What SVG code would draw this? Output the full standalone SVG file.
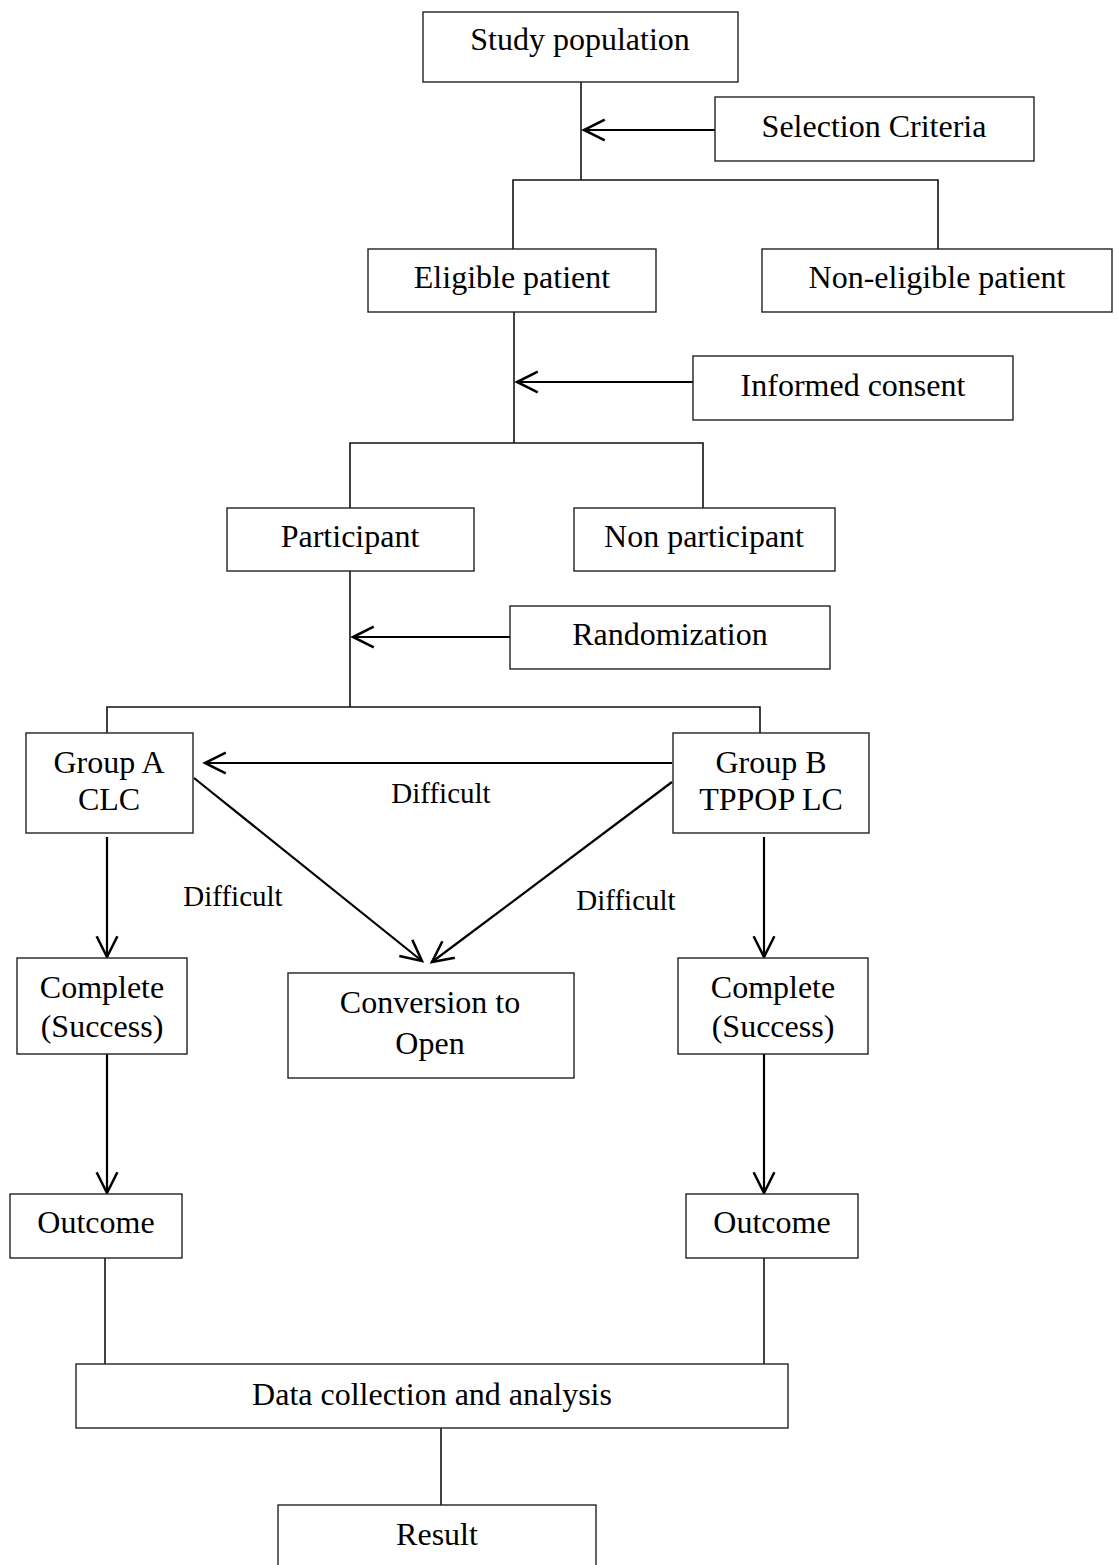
<svg xmlns="http://www.w3.org/2000/svg" width="1118" height="1565" viewBox="0 0 1118 1565">
<style>
.box{fill:#fff;stroke:#222;stroke-width:1.4}
.t{font-family:"Liberation Serif","Times New Roman",serif;font-size:32px;fill:#000;text-anchor:middle}
.lbl{font-family:"Liberation Serif","Times New Roman",serif;font-size:29px;fill:#000;text-anchor:middle}
.ln{fill:none;stroke:#111;stroke-width:1.6}
.ar{fill:none;stroke:#000;stroke-width:2.2;marker-end:url(#arr)}
</style>
<defs>
<marker id="arr" markerUnits="userSpaceOnUse" markerWidth="30" markerHeight="30" refX="0" refY="0" viewBox="-22 -12 26 24" orient="auto" overflow="visible">
<path d="M-18,-9 L0,0 L-18,9" fill="none" stroke="#000" stroke-width="2.2"/>
</marker>
</defs>
<rect width="1118" height="1565" fill="#fff"/>
<g id="connectors">
<line class="ln" x1="581" y1="82" x2="581" y2="180"/>
<line class="ar" x1="715" y1="130" x2="584" y2="130"/>
<polyline class="ln" points="513,249 513,180 938,180 938,249"/>
<line class="ln" x1="514" y1="312" x2="514" y2="443"/>
<line class="ar" x1="693" y1="382" x2="517" y2="382"/>
<polyline class="ln" points="350,508 350,443 703,443 703,508"/>
<line class="ln" x1="350" y1="571" x2="350" y2="707"/>
<line class="ar" x1="510" y1="637" x2="353" y2="637"/>
<polyline class="ln" points="107,733 107,707 760,707 760,733"/>
<line class="ar" x1="672" y1="763" x2="205" y2="763"/>
<line class="ar" x1="194" y1="778" x2="422" y2="961"/>
<line class="ar" x1="672" y1="782" x2="432" y2="962"/>
<line class="ar" x1="107" y1="837" x2="107" y2="957"/>
<line class="ar" x1="764" y1="837" x2="764" y2="957"/>
<line class="ar" x1="107" y1="1054" x2="107" y2="1193"/>
<line class="ar" x1="764" y1="1054" x2="764" y2="1193"/>
<line class="ln" x1="105" y1="1258" x2="105" y2="1364"/>
<line class="ln" x1="764" y1="1258" x2="764" y2="1364"/>
<line class="ln" x1="441" y1="1428" x2="441" y2="1505"/>
</g>
<g id="study-population"><rect class="box" x="423" y="12" width="315" height="70"/><text class="t" x="580" y="50">Study population</text></g>
<g id="selection-criteria"><rect class="box" x="715" y="97" width="319" height="64"/><text class="t" x="874" y="137">Selection Criteria</text></g>
<g id="eligible-patient"><rect class="box" x="368" y="249" width="288" height="63"/><text class="t" x="512" y="288">Eligible patient</text></g>
<g id="non-eligible-patient"><rect class="box" x="762" y="249" width="350" height="63"/><text class="t" x="937" y="288">Non-eligible patient</text></g>
<g id="informed-consent"><rect class="box" x="693" y="356" width="320" height="64"/><text class="t" x="853" y="396">Informed consent</text></g>
<g id="participant"><rect class="box" x="227" y="508" width="247" height="63"/><text class="t" x="350" y="547">Participant</text></g>
<g id="non-participant"><rect class="box" x="574" y="508" width="261" height="63"/><text class="t" x="704" y="547">Non participant</text></g>
<g id="randomization"><rect class="box" x="510" y="606" width="320" height="63"/><text class="t" x="670" y="645">Randomization</text></g>
<g id="group-a"><rect class="box" x="26" y="733" width="167" height="100"/><text class="t" x="109" y="773">Group A</text><text class="t" x="109" y="810">CLC</text></g>
<g id="group-b"><rect class="box" x="673" y="733" width="196" height="100"/><text class="t" x="771" y="773">Group B</text><text class="t" x="771" y="810">TPPOP LC</text></g>
<g id="labels">
<text class="lbl" x="441" y="803">Difficult</text>
<text class="lbl" x="233" y="906">Difficult</text>
<text class="lbl" x="626" y="910">Difficult</text>
</g>
<g id="complete-a"><rect class="box" x="17" y="958" width="170" height="96"/><text class="t" x="102" y="998">Complete</text><text class="t" x="102" y="1037">(Success)</text></g>
<g id="conversion"><rect class="box" x="288" y="973" width="286" height="105"/><text class="t" x="430" y="1013">Conversion to</text><text class="t" x="430" y="1054">Open</text></g>
<g id="complete-b"><rect class="box" x="678" y="958" width="190" height="96"/><text class="t" x="773" y="998">Complete</text><text class="t" x="773" y="1037">(Success)</text></g>
<g id="outcome-a"><rect class="box" x="10" y="1194" width="172" height="64"/><text class="t" x="96" y="1233">Outcome</text></g>
<g id="outcome-b"><rect class="box" x="686" y="1194" width="172" height="64"/><text class="t" x="772" y="1233">Outcome</text></g>
<g id="data-collection"><rect class="box" x="76" y="1364" width="712" height="64"/><text class="t" x="432" y="1405">Data collection and analysis</text></g>
<g id="result"><rect class="box" x="278" y="1505" width="318" height="80"/><text class="t" x="437" y="1545">Result</text></g>
</svg>
